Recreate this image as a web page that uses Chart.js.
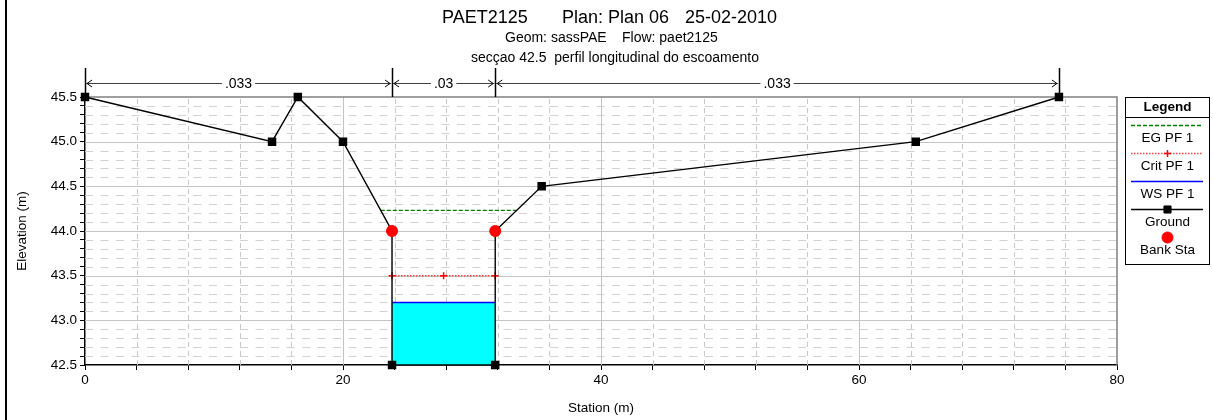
<!DOCTYPE html>
<html>
<head>
<meta charset="utf-8">
<script src="https://cdn.jsdelivr.net/npm/chart.js@4/dist/chart.umd.min.js"></script>
<style>
  html, body { margin: 0; padding: 0; background: #fff; }
  #wrap { width: 1213px; height: 420px; position: relative; }
</style>
</head>
<body>
<div id="wrap"><canvas id="xs" width="1213" height="420"></canvas></div>
<script>
const groundStation = [0, 14.5, 16.5, 20, 23.8, 23.8, 31.8, 31.8, 35.4, 64.4, 75.5];
const groundElev    = [45.5, 45.0, 45.5, 45.0, 44.0, 42.5, 42.5, 44.0, 44.5, 45.0, 45.5];
const bankStation = [23.8, 31.8];
const bankElev    = [44.0, 44.0];
const wsStation = [23.8, 31.8];
const wsElev    = [43.2, 43.2];
const critStation = [23.8, 27.8, 31.8];
const critElev    = [43.5, 43.5, 43.5];
const egStation = [22.93, 33.46];
const egElev    = [44.23, 44.23];
// zonas de Manning
const nBreaks = [0, 23.8, 31.8, 75.5];
const nValues = ['.033', '.03', '.033'];

const FONT = 'Liberation Sans, Arial, Helvetica, sans-serif';

function pts(xs, ys) {
    return xs.map((x, i) => ({ x: x, y: ys[i] }));
}

// grelha (linhas principais cheias, secundarias tracejadas)
const gridPlugin = {
    id: 'hecGrid',
    beforeDatasetsDraw(chart) {
        const { ctx, chartArea: a, scales } = chart;
        ctx.save();
        ctx.lineWidth = 1;
        // secundarias
        ctx.strokeStyle = '#d2d2d2';
        ctx.setLineDash([8, 7.5]);
        scales.y.ticks.forEach(t => {
            const r = Math.round(t.value * 10);
            if (r % 5 === 0) return;
            const y = Math.round(scales.y.getPixelForValue(t.value)) + 0.5;
            ctx.beginPath(); ctx.moveTo(a.left, y); ctx.lineTo(a.right, y); ctx.stroke();
        });
        ctx.strokeStyle = '#c8c8c8';
        ctx.setLineDash([5, 4]);
        scales.x.ticks.forEach(t => {
            if (t.value % 20 === 0) return;
            const x = Math.round(scales.x.getPixelForValue(t.value)) + 0.5;
            ctx.beginPath(); ctx.moveTo(x, a.bottom); ctx.lineTo(x, a.top); ctx.stroke();
        });
        // principais
        ctx.setLineDash([]);
        ctx.strokeStyle = '#c4c4c4';
        scales.y.ticks.forEach(t => {
            const r = Math.round(t.value * 10);
            if (r % 5 !== 0 || t.value <= scales.y.min || t.value >= scales.y.max) return;
            const y = Math.round(scales.y.getPixelForValue(t.value)) + 0.5;
            ctx.beginPath(); ctx.moveTo(a.left, y); ctx.lineTo(a.right, y); ctx.stroke();
        });
        scales.x.ticks.forEach(t => {
            if (t.value % 20 !== 0 || t.value <= scales.x.min || t.value >= scales.x.max) return;
            const x = Math.round(scales.x.getPixelForValue(t.value)) + 0.5;
            ctx.beginPath(); ctx.moveTo(x, a.bottom); ctx.lineTo(x, a.top); ctx.stroke();
        });
        // topo e lado direito
        ctx.strokeStyle = '#808080';
        ctx.lineWidth = 1.5;
        ctx.beginPath();
        ctx.moveTo(a.left, a.top); ctx.lineTo(a.right, a.top); ctx.lineTo(a.right, a.bottom);
        ctx.stroke();
        ctx.restore();
    }
};

// titulos, coeficientes de Manning e legenda
const decorPlugin = {
    id: 'hecDecor',
    afterDraw(chart) {
        const { ctx, chartArea: a, scales } = chart;
        const sx = v => scales.x.getPixelForValue(v);
        ctx.save();

        // moldura esquerda
        ctx.fillStyle = '#000';
        ctx.fillRect(5, 0, 2, 420);

        // titulo
        ctx.fillStyle = '#000';
        ctx.textBaseline = 'alphabetic';
        ctx.textAlign = 'left';
        ctx.font = '18px ' + FONT;
        ctx.fillText('PAET2125', 442, 23);
        ctx.fillText('Plan: Plan 06', 562, 23);
        ctx.fillText('25-02-2010', 685, 23);
        ctx.font = '14px ' + FONT;
        ctx.fillText('Geom: sassPAE', 505, 42);
        ctx.fillText('Flow: paet2125', 622, 42);
        ctx.textAlign = 'center';
        ctx.fillText('secçao 42.5  perfil longitudinal do escoamento', 615, 62);

        // titulos dos eixos
        ctx.font = '13.5px ' + FONT;
        ctx.textBaseline = 'middle';
        ctx.fillText('Station (m)', (a.left + a.right) / 2, 408);
        ctx.save();
        ctx.translate(22, (a.top + a.bottom) / 2);
        ctx.rotate(-Math.PI / 2);
        ctx.fillText('Elevation (m)', 0, 0);
        ctx.restore();

        // coeficientes de Manning
        const yl = 83;
        nBreaks.forEach(b => {
            const x = Math.round(sx(b)) + 0.5;
            ctx.strokeStyle = '#000';
            ctx.lineWidth = 1.5;
            ctx.beginPath(); ctx.moveTo(x, 68); ctx.lineTo(x, a.top); ctx.stroke();
        });
        ctx.lineWidth = 1;
        ctx.font = '14px ' + FONT;
        nValues.forEach((n, i) => {
            const x0 = sx(nBreaks[i]), x1 = sx(nBreaks[i + 1]);
            const xm = (x0 + x1) / 2;
            const w = ctx.measureText(n).width;
            ctx.strokeStyle = '#404040';
            ctx.beginPath();
            ctx.moveTo(x0 + 1, yl + 0.5); ctx.lineTo(xm - w / 2 - 3, yl + 0.5);
            ctx.moveTo(xm + w / 2 + 3, yl + 0.5); ctx.lineTo(x1 - 1, yl + 0.5);
            ctx.stroke();
            ctx.strokeStyle = '#000';
            ctx.beginPath();
            ctx.moveTo(x0 + 7, yl - 3); ctx.lineTo(x0 + 2, yl + 0.5); ctx.lineTo(x0 + 7, yl + 4);
            ctx.moveTo(x1 - 7, yl - 3); ctx.lineTo(x1 - 2, yl + 0.5); ctx.lineTo(x1 - 7, yl + 4);
            ctx.stroke();
            ctx.fillStyle = '#000';
            ctx.textAlign = 'center';
            ctx.textBaseline = 'middle';
            ctx.fillText(n, xm, yl + 1);
        });

        // legenda
        const lx = 1125, lw = 84, ly = 97, lh = 167;
        ctx.fillStyle = '#fff';
        ctx.fillRect(lx, ly, lw, lh);
        ctx.strokeStyle = '#000';
        ctx.lineWidth = 1;
        ctx.strokeRect(lx + 0.5, ly + 0.5, lw, lh);
        ctx.beginPath(); ctx.moveTo(lx, 117.5); ctx.lineTo(lx + lw, 117.5); ctx.stroke();
        ctx.fillStyle = '#000';
        ctx.font = 'bold 13.5px ' + FONT;
        ctx.textAlign = 'center';
        ctx.textBaseline = 'middle';
        const cx = lx + lw / 2 + 0.5;
        ctx.fillText('Legend', cx, 107);

        const order = ['EG PF 1', 'Crit PF 1', 'WS PF 1', 'Ground', 'Bank Sta'];
        order.forEach((lab, i) => {
            const ds = chart.data.datasets.find(d => d.label === lab);
            const yy = 125 + i * 28;
            ctx.save();
            if (ds.showLine !== false) {
                ctx.strokeStyle = ds.borderColor;
                ctx.lineWidth = ds.borderWidth;
                ctx.setLineDash(ds.borderDash || []);
                ctx.beginPath(); ctx.moveTo(1131, yy + 0.5); ctx.lineTo(1203, yy + 0.5); ctx.stroke();
                ctx.setLineDash([]);
            }
            if (ds.pointRadius > 0) {
                ctx.fillStyle = ds.pointBackgroundColor || ds.pointBorderColor;
                ctx.strokeStyle = ds.pointBorderColor;
                ctx.lineWidth = ds.pointBorderWidth || 1;
                Chart.helpers.drawPoint(ctx, {
                    pointStyle: ds.pointStyle,
                    radius: ds.pointRadius,
                    borderWidth: ds.pointBorderWidth || 1,
                    rotation: 0
                }, cx, yy + 0.5);
            }
            ctx.restore();
            ctx.fillStyle = '#000';
            ctx.font = '13.5px ' + FONT;
            ctx.fillText(lab, cx, yy + 13);
        });
        ctx.restore();
    }
};

const chart = new Chart(document.getElementById('xs'), {
    type: 'line',
    data: {
        datasets: [
            {
                label: 'Bank Sta',
                data: pts(bankStation, bankElev),
                showLine: false,
                pointStyle: 'circle',
                pointRadius: 5.5,
                pointBackgroundColor: '#ff0000',
                pointBorderColor: '#ff0000',
                borderColor: '#ff0000',
                backgroundColor: '#ff0000',
                clip: false,
                order: 0
            },
            {
                label: 'Ground',
                data: pts(groundStation, groundElev),
                borderColor: '#000',
                borderWidth: 1.4,
                pointStyle: 'rect',
                pointRadius: 5,
                pointBackgroundColor: '#000',
                pointBorderColor: '#000',
                backgroundColor: '#000',
                tension: 0,
                clip: false,
                order: 1
            },
            {
                label: 'EG PF 1',
                data: pts(egStation, egElev),
                borderColor: '#008000',
                borderWidth: 1.3,
                borderDash: [4, 2],
                pointRadius: 0,
                clip: false,
                order: 2
            },
            {
                label: 'Crit PF 1',
                data: pts(critStation, critElev),
                borderColor: '#ff4040',
                borderWidth: 1.5,
                borderDash: [1.5, 1.5],
                pointStyle: 'cross',
                pointRadius: 3.5,
                pointBorderWidth: 1.5,
                pointBackgroundColor: '#ff0000',
                pointBorderColor: '#ff0000',
                backgroundColor: '#ff0000',
                clip: false,
                order: 3
            },
            {
                label: 'WS PF 1',
                data: pts(wsStation, wsElev),
                borderColor: '#0000ff',
                borderWidth: 1.5,
                backgroundColor: '#00ffff',
                fill: { value: 42.5 },
                pointRadius: 0,
                clip: false,
                order: 4
            }
        ]
    },
    options: {
        responsive: false,
        animation: false,
        devicePixelRatio: 1,
        layout: { padding: { left: 0, top: 97, right: 96, bottom: 0 } },
        plugins: {
            legend: { display: false },
            tooltip: { enabled: false },
            title: { display: false }
        },
        scales: {
            x: {
                type: 'linear',
                min: 0,
                max: 80,
                afterFit: s => { s.height = 55; },
                ticks: {
                    stepSize: 4,
                    autoSkip: false,
                    maxRotation: 0,
                    padding: 2,
                    color: '#000',
                    font: { family: FONT, size: 13.5 },
                    callback: v => (v % 20 === 0 ? String(v) : '')
                },
                grid: { drawOnChartArea: false, tickLength: 5, tickColor: '#000' },
                border: { color: '#000', width: 1.5 }
            },
            y: {
                type: 'linear',
                min: 42.5,
                max: 45.5,
                afterFit: s => { s.width = 85; },
                ticks: {
                    stepSize: 0.1,
                    autoSkip: false,
                    padding: 3,
                    color: '#000',
                    font: { family: FONT, size: 13.5 },
                    callback: v => {
                        const r = Math.round(v * 10);
                        return r % 5 === 0 ? (r / 10).toFixed(1) : '';
                    }
                },
                grid: { drawOnChartArea: false, tickLength: 5, tickColor: '#000' },
                border: { color: '#000', width: 1.5 }
            }
        }
    },
    plugins: [gridPlugin, decorPlugin]
});
</script>
</body>
</html>
